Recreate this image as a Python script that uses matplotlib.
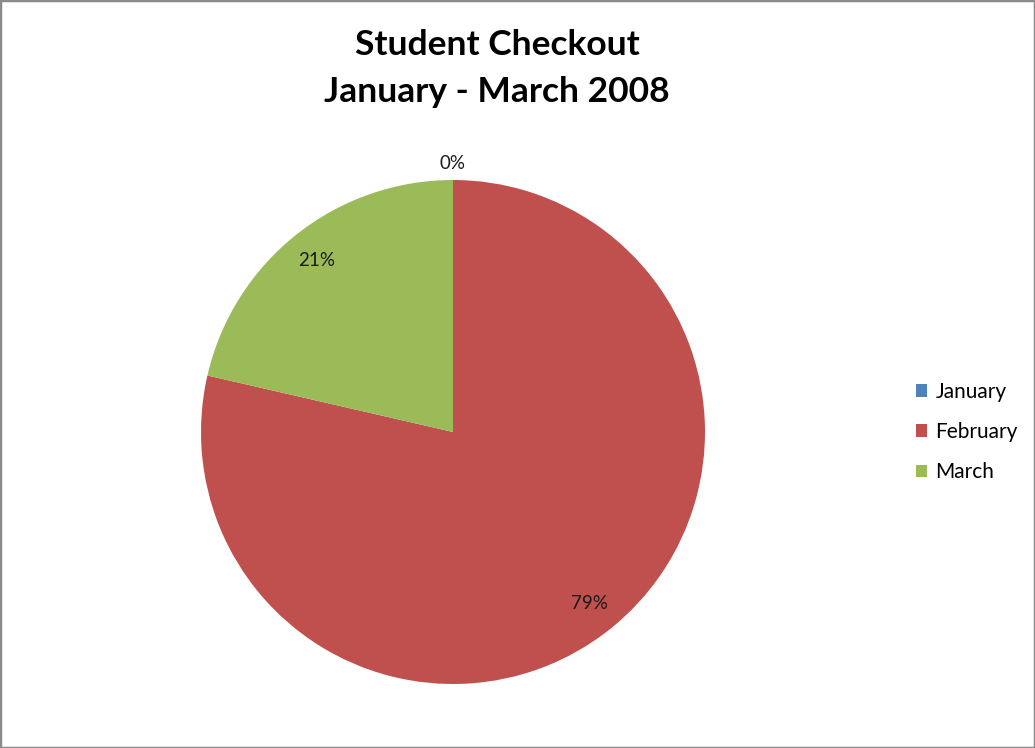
import numpy as np
import matplotlib.pyplot as plt
from matplotlib.patches import Rectangle

months = ['January', 'February', 'March']
shares = [0, 78.6, 21.4]
colors = ['#4F81BD', '#C0504D', '#9BBB59']

plt.rcParams['font.family'] = ['Lato', 'DejaVu Sans']

fig = plt.figure(figsize = (10.35, 7.48), dpi = 100)
fig.patch.set_facecolor('white')
fig.patches.append(Rectangle((0, 0), 1, 1, transform = fig.transFigure, fill = False,
	edgecolor = '#8a8a8a', linewidth = 2.5, zorder = 10))

# pie box in pixels: center (453, 432), radius 252
W, H = 1035.0, 748.0
ax = fig.add_axes([(453 - 252) / W, (H - 684) / H, 504 / W, 504 / H])

wedges, texts, autotexts = ax.pie(shares, colors = colors, startangle = 90, counterclock = False,
	autopct = '%1.0f%%', pctdistance = 0.87, radius = 1,
	wedgeprops = dict(linewidth = 0), textprops = dict(fontsize = 13.5, color = '#1a1a1a'))

# zero slice label sits just outside the rim
for w, t, v in zip(wedges, autotexts, shares):
	if v == 0:
		ang = np.deg2rad((w.theta1 + w.theta2) / 2)
		t.set_position((1.065 * np.cos(ang), 1.065 * np.sin(ang)))

ax.set_xlim(-1, 1)
ax.set_ylim(-1, 1)

fig.text(497 / W, 1 - 45 / H, 'Student Checkout', ha = 'center', va = 'center',
	fontsize = 25.5, fontweight = 'bold', color = 'black')
fig.text(497 / W, 1 - 92 / H, 'January - March 2008', ha = 'center', va = 'center',
	fontsize = 25.5, fontweight = 'bold', color = 'black')

leg = fig.legend(wedges, months, loc = 'center left', bbox_to_anchor = (901 / W, 1 - 432 / H),
	frameon = False, fontsize = 15, handlelength = 0.55, handleheight = 0.55,
	handletextpad = 0.4, labelspacing = 0.97, borderpad = 0.2)

fig.savefig('out.png', dpi = 100)
